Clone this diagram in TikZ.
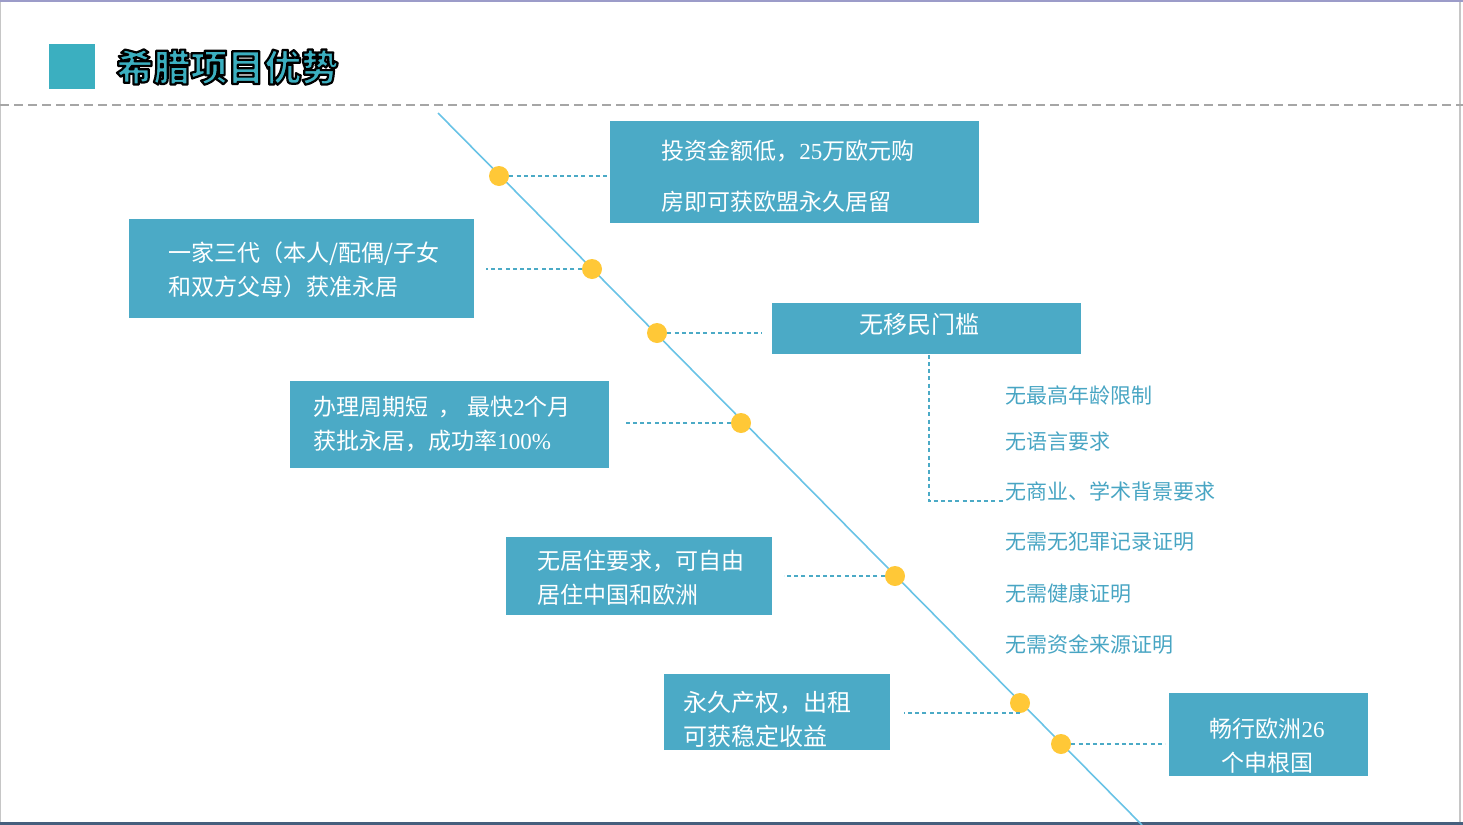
\documentclass[tikz,border=0pt]{standalone}
\usepackage{fontspec}
\newfontfamily\cjk{Noto Sans CJK SC}
\newfontfamily\dig{Liberation Serif}
\definecolor{boxblue}{RGB}{75,170,198}
\definecolor{linesky}{RGB}{105,195,230}
\definecolor{dotyel}{RGB}{255,200,55}
\definecolor{listblue}{RGB}{72,165,195}
\definecolor{titleteal}{RGB}{59,175,192}
\definecolor{framedark}{RGB}{70,95,125}
\newcommand{\outlinetext}[1]{\special{pdf:literal direct 0 0 0 RG 1.1 w 1 j 2 Tr}#1\special{pdf:literal direct 0 Tr}}
\tikzset{
  box/.style={draw=none, fill=boxblue, inner sep=0pt, anchor=north west},
  btext/.style={anchor=west, inner sep=0pt, text=white, font=\cjk\fontsize{11.5}{17}\selectfont, align=left},
  dot/.style={circle, fill=dotyel, inner sep=0pt, minimum size=10pt},
  conn/.style={draw=boxblue, line width=0.8pt, dash pattern=on 2pt off 1.6pt},
  item/.style={anchor=west, inner sep=0pt, text=listblue, font=\cjk\fontsize{10.5}{12}\selectfont},
  ttl/.style={anchor=west, inner sep=0pt, font=\cjk\bfseries\fontsize{18.5}{20}\selectfont}
}
\begin{document}
\begin{tikzpicture}[x=0.5pt,y=-0.5pt]
\useasboundingbox (0,0) rectangle (1463,825);
% frame
\draw[color=gray!45, line width=0.8pt] (0.5,1) rectangle (1460,823);
\draw[color=blue!30!gray!60, line width=1.2pt] (0,1) -- (1463,1);
\draw[color=framedark, line width=1.2pt] (0,823.5) -- (1463,823.5);
% title
\node[fill=titleteal, anchor=north west, inner sep=0pt, minimum width=23pt, minimum height=22.5pt] (sq) at (49,44) {};
\node[ttl, text=titleteal] (title) at (116,67) {\outlinetext{希腊项目优势}};
\draw[color=gray!70, line width=1pt, dash pattern=on 4.5pt off 2.5pt] (0,105) -- (1463,105);
% diagonal
\coordinate (L0) at (438,113);
\coordinate (L1) at (1142,825);
\draw[color=linesky, line width=0.8pt] (L0) -- (L1);
% dots
\node[dot] (d1) at (499,176) {};
\node[dot] (d2) at (592,269) {};
\node[dot] (d3) at (657,333) {};
\node[dot] (d4) at (741,423) {};
\node[dot] (d5) at (895,576) {};
\node[dot] (d6) at (1020,703) {};
\node[dot] (d7) at (1061,744) {};
% boxes
\node[box, minimum width=184.5pt, minimum height=51pt] (b1) at (610,121) {};
\node[box, minimum width=172.5pt, minimum height=49.5pt] (b2) at (129,219) {};
\node[box, minimum width=154.5pt, minimum height=25.5pt] (b3) at (772,303) {};
\node[box, minimum width=159.5pt, minimum height=43.5pt] (b4) at (290,381) {};
\node[box, minimum width=133pt, minimum height=39pt] (b5) at (506,537) {};
\node[box, minimum width=113pt, minimum height=38pt] (b6) at (664,674) {};
\node[box, minimum width=99.5pt, minimum height=41.5pt] (b7) at (1169,693) {};
% box texts
\node[btext, font=\cjk\fontsize{11.5}{25.5}\selectfont] (t1) at (661,176) {投资金额低，{\dig 25}万欧元购\\房即可获欧盟永久居留};
\node[btext] (t2) at (168,270) {一家三代（本人/配偶/子女\\和双方父母）获准永居};
\node[btext, anchor=center, font=\cjk\fontsize{12}{14}\selectfont] (t3) at (919,324) {无移民门槛};
\node[btext] (t4) at (313,424) {办理周期短\hspace{5pt}，\hspace{3pt}最快{\dig 2}个月\\获批永居，成功率{\dig 100\%}};
\node[btext] (t5) at (537,578) {无居住要求，可自由\\居住中国和欧洲};
\node[btext, font=\cjk\fontsize{12}{17}\selectfont] (t6) at (683,719) {永久产权，出租\\可获稳定收益};
\node[btext, anchor=center, align=center] (t7) at (1267,746) {畅行欧洲{\dig 26}\\个申根国};
% list
\node[item] (i1) at (1005,395) {无最高年龄限制};
\node[item] (i2) at (1005,442) {无语言要求};
\node[item] (i3) at (1005,491) {无商业、学术背景要求};
\node[item] (i4) at (1005,542) {无需无犯罪记录证明};
\node[item] (i5) at (1005,593) {无需健康证明};
\node[item] (i6) at (1005,644) {无需资金来源证明};
% connectors
\draw[conn] (d1) -- (d1 -| b1.west);
\draw[conn, shorten >=5.5pt] (d2) -- (d2 -| b2.east);
\draw[conn, shorten >=5pt] (d3) -- (d3 -| b3.west);
\draw[conn, shorten >=8pt] (d4) -- (d4 -| b4.east);
\draw[conn, shorten >=5.5pt] (d5) -- (d5 -| b5.east);
\draw[conn, shorten >=6.5pt] ([yshift=-5pt]d6.center) -- ([yshift=-5pt]d6.center -| b6.east);
\draw[conn, shorten >=2pt] (d7) -- (d7 -| b7.west);
\draw[conn] ([xshift=1pt]b3.south) |- (i3.south west);
\end{tikzpicture}
\end{document}
